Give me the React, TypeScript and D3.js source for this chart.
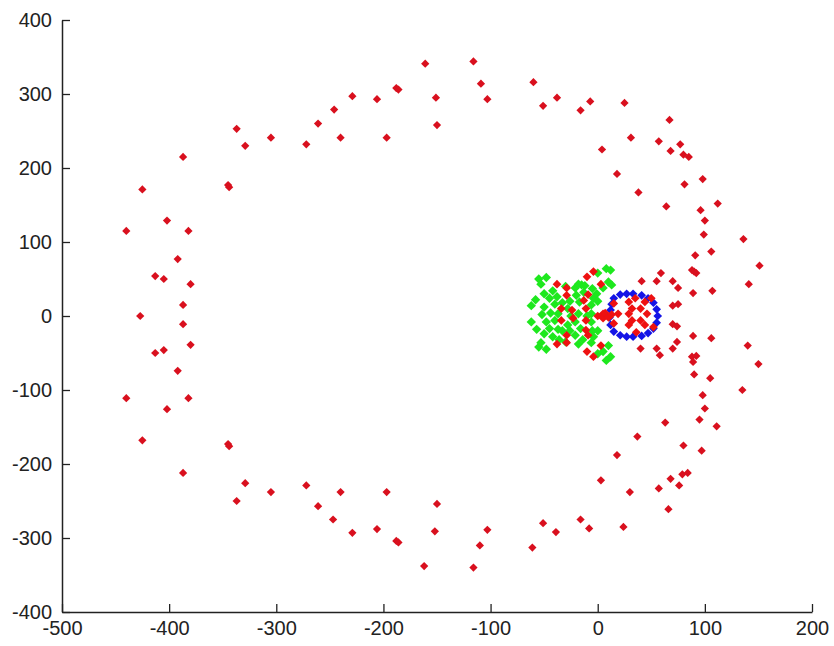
import React, { useEffect, useRef } from 'react';
import * as d3 from 'd3';

// outer red points (big ring)
const redOuter: [number, number][] = [
  [-305, 241], [-337, 253], [-329, 230], [-387, 215], [-345, 177], [-344, 174], [-425, 171],
  [-402, 129], [-440, 115], [-382, 115], [-392, 77], [-413, 54], [-405, 50], [-380, 43],
  [-387, 15], [-427, 0], [-387, -11], [-380, -39], [-413, -50], [-405, -46], [-392, -74],
  [-440, -111], [-382, -111], [-402, -126], [-425, -168], [-345, -173], [-344, -176],
  [-387, -212], [-329, -226], [-337, -250], [-305, -238],
  [-272, 232], [-261, 260], [-246, 279], [-240, 241], [-229, 297], [-206, 293], [-197, 241],
  [-188, 308], [-186, 306], [-161, 341], [-151, 295], [-150, 258], [-116, 344], [-109, 314],
  [-103, 293], [-60, 316], [-51, 284],
  [-272, -229], [-261, -257], [-247, -275], [-240, -238], [-229, -293], [-206, -288],
  [-197, -238], [-188, -304], [-186, -306], [-162, -338], [-152, -291], [-150, -254],
  [-116, -340], [-110, -310], [-103, -289], [-61, -313], [-51, -280],
  [-38, 295], [-16, 278], [-7, 290], [25, 288], [67, 265], [31, 241], [57, 236], [4, 225],
  [77, 232], [68, 223], [80, 218], [85, 215], [18, 192], [98, 185], [81, 178], [38, 167],
  [64, 148], [112, 152], [96, 143], [100, 129], [99, 110], [136, 104], [91, 82], [106, 87],
  [88, 62], [92, 58], [90, 60], [151, 68], [141, 43], [107, 34], [89, 31], [59, 58], [55, 47],
  [41, 47], [70, 47], [75, 38], [70, 14], [75, 16],
  [-39, -292], [-16, -275], [-8, -287], [24, -285], [66, -261], [30, -238], [57, -233],
  [3, -222], [76, -229], [68, -220], [79, -214], [84, -212], [18, -188], [97, -182],
  [80, -175], [37, -163], [63, -144], [111, -149], [95, -140], [100, -125], [98, -107],
  [135, -100], [90, -79], [105, -84], [88, -55], [92, -54], [89, -62], [150, -65], [140, -40],
  [106, -30], [89, -27], [58, -53], [55, -44], [40, -44], [70, -44], [74, -35], [70, -11],
  [74, -14],
];

// red points inside the green/blue cluster
const redInner: [number, number][] = [
  [-38, 43], [-29, 38], [-29, 28], [-10, 53], [-4, 60], [-9, 29], [-13, 21], [-34, 10],
  [-24, 8], [-23, -3], [-34, -6], [-11, 10], [-11, -6], [-29, -26], [-38, -38], [-29, -36],
  [-11, -19], [-9, -26], [-10, -48], [-4, -55], [3, 43], [3, -40], [0, 0], [5, 3], [5, -3],
  [7, 4], [10, -2], [13, 2], [19, 3], [15, 17], [15, -10], [29, 19], [35, 24], [44, 19],
  [32, 10], [40, 10], [29, 3], [46, 3], [32, -6], [40, -6], [29, -12], [44, -12], [36, -22],
  [50, 24], [52, -15],
];

const greenPts: [number, number][] = [
  [-55, 50], [-48, 52], [-53, 43], [-55, -42], [-48, -45], [-53, -36], [-62, 14], [-62, -8],
  [-50, 30], [-42, 34], [-45, 24], [-38, 26], [-50, 12], [-40, 16], [-52, 2], [-44, 4],
  [-37, 3], [-48, -8], [-40, -6], [-45, -17], [-37, -18], [-50, -24], [-42, -28], [-36, -32],
  [-21, 38], [-15, 42], [-20, 28], [-13, 32], [-17, 19], [-5, 37], [-4, 24], [-6, 15],
  [-18, 3], [-6, 3], [-21, -8], [-6, -8], [-16, -17], [-21, -26], [-14, -32], [-5, -20],
  [-4, -28], [-6, -36], [0, 58], [8, 64], [12, 62], [10, 46], [13, 42], [5, 38], [-1, 30],
  [0, -51], [8, -60], [12, -55], [10, -40], [5, -48], [-28, 10], [-28, -12], [-30, 40],
  [-30, -35], [-25, 0], [-10, 0], [0, 20], [0, -20], [-33, 18], [-33, -20], [-18, 43],
  [-12, 41], [-18, -38], [-58, 22], [-57, -18], [-26, 20], [-26, -20],
];

const blueRing: [number, number][] = [
  [15, 24], [21, 29], [27, 30], [33, 30], [41, 28], [47, 24], [52, 18], [55, 9], [56, 0],
  [55, -9], [52, -17], [47, -23], [41, -27], [33, -28], [27, -28], [21, -26], [15, -21],
  [12, -12], [11, -2], [12, 8], [13, 16],
];

const xTicks = [-500, -400, -300, -200, -100, 0, 100, 200];
const yTicks = [-400, -300, -200, -100, 0, 100, 200, 300, 400];

const App: React.FC = () => {
  const svgRef = useRef(null);

  useEffect(() => {
    document.body.style.margin = '0';
    const width = 834;
    const height = 646;
    const svg = d3.select(svgRef.current)
      .attr('width', width)
      .attr('height', height)
      .style('display', 'block')
      .style('background', '#fff');
    svg.selectAll('*').remove();

    const x = d3.scaleLinear().domain([-500, 200]).range([62, 812]);
    const y = d3.scaleLinear().domain([-400, 400]).range([612, 20]);

    const axisx = svg.append('g')
      .attr('transform', `translate(0,${612})`)
      .call(d3.axisBottom(x).tickValues(xTicks).tickSizeInner(-8).tickSizeOuter(0).tickPadding(9)
        .tickFormat(d => String(d)));
    const axisy = svg.append('g')
      .attr('transform', `translate(62,0)`)
      .call(d3.axisLeft(y).tickValues(yTicks).tickSizeInner(-8).tickSizeOuter(0).tickPadding(10)
        .tickFormat(d => String(d)));

    [axisx, axisy].forEach(a => {
      a.selectAll('path').style('stroke', '#222').style('stroke-width', 1.5);
      a.selectAll('line').style('stroke', '#222').style('stroke-width', 1.3);
      a.selectAll('text')
        .style('font-family', '"Liberation Sans", Arial, sans-serif')
        .style('font-size', '20px')
        .style('fill', '#222');
    });

    const drawSet = (pts: [number, number][], color: string, size: number) => {
      const marker = d3.symbol(d3.symbolSquare, size)();
      svg.append('g').selectAll('path')
        .data(pts)
        .enter()
        .append('path')
        .attr('d', marker)
        .attr('transform', d => `translate(${x(d[0])},${y(d[1])}) rotate(45)`)
        .attr('fill', color);
    };

    drawSet(greenPts, '#1ee81e', 44);
    drawSet(blueRing, '#1414e6', 38);
    drawSet(redOuter, '#d9101e', 34);
    drawSet(redInner, '#ee1111', 38);
  }, []);

  return <svg ref={svgRef}></svg>;
};

export default App;
